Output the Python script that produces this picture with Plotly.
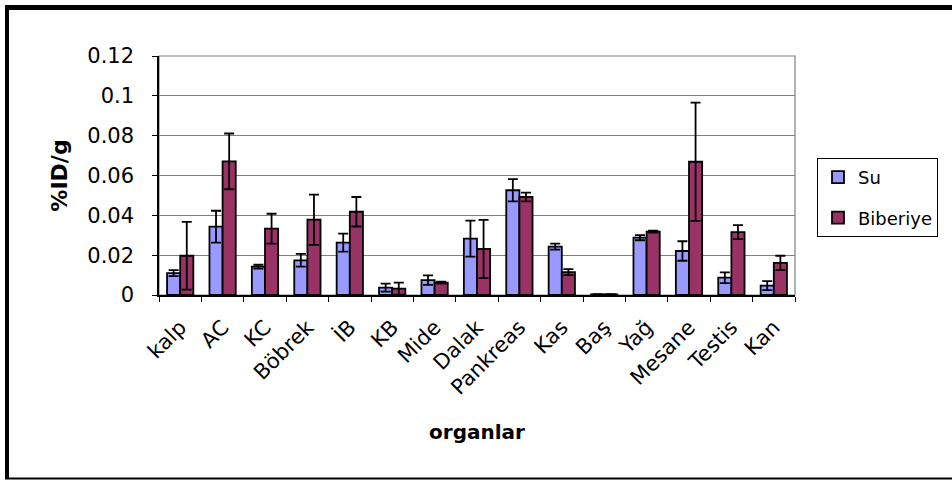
import plotly.graph_objects as go

organs = ["kalp", "AC", "KC", "Böbrek", "İB", "KB", "Mide", "Dalak", "Pankreas",
          "Kas", "Baş", "Yağ", "Mesane", "Testis", "Kan"]
su = [0.011, 0.0343, 0.0142, 0.0174, 0.0263, 0.0037, 0.0075, 0.0283, 0.0526,
      0.0243, 0.0003, 0.0288, 0.0221, 0.0087, 0.0047]
su_err = [0.0015, 0.008, 0.001, 0.0032, 0.0045, 0.002, 0.0024, 0.009, 0.0056,
          0.0015, 0.0001, 0.0013, 0.0049, 0.0027, 0.0023]
biberiye = [0.0197, 0.0671, 0.0333, 0.0378, 0.0418, 0.0032, 0.0062, 0.0231, 0.0492,
            0.0115, 0.0003, 0.0318, 0.0669, 0.0316, 0.0161]
biberiye_err = [0.017, 0.014, 0.0075, 0.0126, 0.0074, 0.003, 0.0005, 0.0146, 0.0022,
                0.0015, 0.0001, 0.0005, 0.0297, 0.0035, 0.0036]
y_ticks = [0, 0.02, 0.04, 0.06, 0.08, 0.1, 0.12]
y_ticktext = ["0", "0.02", "0.04", "0.06", "0.08", "0.1", "0.12"]

FONT = "DejaVu Sans"

fig = go.Figure()
fig.add_trace(go.Bar(
    name="Su", x=organs, y=su, legendgroup="a",
    marker=dict(color="#9999FF", line=dict(color="black", width=1.8)),
    error_y=dict(type="data", array=su_err, visible=True, color="black",
                 thickness=1.8, width=5),
))
fig.add_trace(go.Bar(
    name="Biberiye", x=organs, y=biberiye, legendgroup="b",
    marker=dict(color="#993366", line=dict(color="black", width=1.8)),
    error_y=dict(type="data", array=biberiye_err, visible=True, color="black",
                 thickness=1.8, width=5),
))

W, H = 952, 480
L, T = 159, 56
R = W - 795
B = H - 295
pw, ph = W - L - R, H - T - B

def px(xwin):
    return (xwin - L) / pw

def py(ywin):
    return (H - B - ywin) / ph

shapes = [
    dict(type="rect", xref="paper", yref="paper", x0=0, x1=1, y0=0, y1=1,
         line=dict(color="#808080", width=1.2), layer="below"),
    dict(type="line", xref="paper", yref="paper", x0=px(5), x1=px(970),
         y0=py(7.5), y1=py(7.5), line=dict(color="black", width=5)),
    dict(type="line", xref="paper", yref="paper", x0=px(7), x1=px(7),
         y0=py(5), y1=py(479), line=dict(color="black", width=4)),
    dict(type="line", xref="paper", yref="paper", x0=px(5), x1=px(970),
         y0=py(478.5), y1=py(478.5), line=dict(color="black", width=2)),
]

fig.update_layout(
    width=W, height=H,
    margin=dict(l=L, r=R, t=T, b=B, autoexpand=False),
    paper_bgcolor="white", plot_bgcolor="white",
    barmode="group", bargap=0.38, bargroupgap=0,
    font=dict(family=FONT, color="black"),
    shapes=shapes,
    legend=dict(
        x=px(817), y=py(158), xanchor="left", yanchor="top",
        bordercolor="black", borderwidth=1, bgcolor="white",
        font=dict(family=FONT, size=18, color="black"),
        traceorder="grouped", tracegroupgap=14,
        itemwidth=30,
    ),
    xaxis=dict(
        type="category", tickangle=-45, tickson="boundaries",
        ticks="outside", ticklen=5, tickcolor="black",
        showline=True, linecolor="black", linewidth=1.5,
        tickfont=dict(family=FONT, size=21, color="black"),
        ticklabelstandoff=10,
        title=dict(text="<b>organlar</b>", font=dict(family=FONT, size=20), standoff=26),
        showgrid=False,
    ),
    yaxis=dict(
        range=[0, 0.12], tickvals=y_ticks, ticktext=y_ticktext,
        ticks="outside", ticklen=5, tickcolor="black",
        showline=True, linecolor="black", linewidth=1.5,
        showgrid=True, gridcolor="#808080", gridwidth=1.2,
        zeroline=False,
        tickfont=dict(family=FONT, size=21, color="black"),
        ticklabelstandoff=14,
        title=dict(text="<b>%ID/g</b>", font=dict(family=FONT, size=22), standoff=14),
    ),
)

fig.write_html("out.html", config={"displayModeBar": False},
               post_script="document.body.style.margin='0px';")
